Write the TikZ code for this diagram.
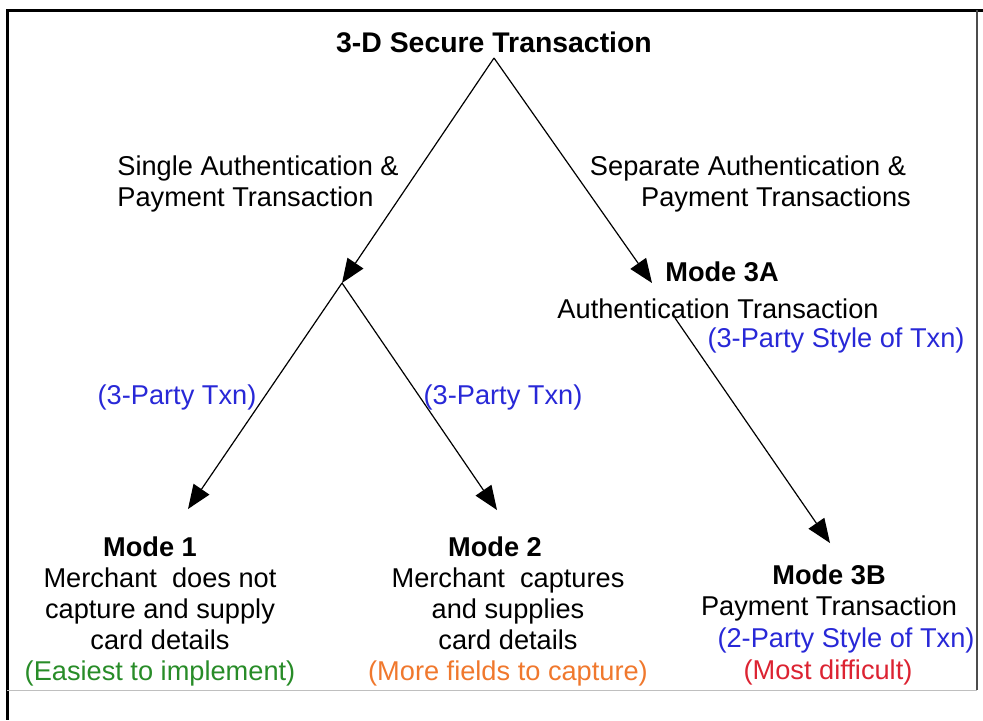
\documentclass[tikz,border=0pt]{standalone}
\usepackage{fontspec}
\setmainfont{Liberation Sans}
\usetikzlibrary{arrows.meta}
\definecolor{txnblue}{RGB}{40,40,215}
\definecolor{easygreen}{RGB}{40,140,40}
\definecolor{moreorange}{RGB}{240,120,45}
\definecolor{hardred}{RGB}{220,35,50}
\tikzset{
  lbl/.style={font=\fontsize{13.6}{15.5}\selectfont, align=center, inner sep=0pt},
  hd/.style={lbl, font=\fontsize{13.6}{15.5}\selectfont\bfseries},
  arr/.style={-{Triangle[length=12pt,width=9.5pt]}, line width=0.6pt},
}

\begin{document}
\begin{tikzpicture}[x=0.5pt, y=-0.5pt]
\useasboundingbox (0,0) rectangle (983,720);
% Frame
\draw[line width=1.5pt] (983,10) -- (7,10) -- (7,720);
\draw[line width=0.7pt, black!70] (977,10) -- (977,690);
\draw[line width=0.5pt, black!25] (7,690) -- (977,690);
% Title and branch points
\node[hd, font=\fontsize{14.2}{16}\selectfont\bfseries] (title) at (494,42) {3-D Secure Transaction};
\coordinate (apex) at (494,58);
\coordinate (split) at (342,283);
\coordinate (in3a) at (652,283);
\coordinate (out3a) at (675,318);
\coordinate (in3b) at (830,543);
\coordinate (in1) at (188,509);
\coordinate (in2) at (497,510);
% Branch labels
\node[lbl, anchor=west, align=left] (single) at (117,184) {Single Authentication \&\\Payment Transaction};
\node[lbl] (separate) at (748,184) {Separate Authentication \&\\\hspace*{28pt}Payment Transactions};
\node[lbl, text=txnblue] (party1) at (177,397) {(3-Party Txn)};
\node[lbl, text=txnblue] (party2) at (503,397) {(3-Party Txn)};
% Mode 3A
\node[hd] (m3a) at (722,272) {Mode 3A};
\node[lbl] (m3atxt) at (718,309) {Authentication Transaction};
\node[lbl, text=txnblue] (m3astyle) at (836,340) {(3-Party Style of Txn)};
% Modes at the bottom
\node[lbl] (m1) at (160,611) {\textbf{Mode 1}\hspace*{10pt}\\Merchant\ \ does not\\capture and supply\\card details\\\textcolor{easygreen}{(Easiest to implement)}};
\node[lbl] (m2) at (508,611) {\textbf{Mode 2}\hspace*{13pt}\\Merchant\ \ captures\\and supplies\\card details\\\textcolor{moreorange}{(More fields to capture)}};
\node[lbl] (m3b) at (829,593) {\textbf{Mode 3B}\\Payment Transaction};
\node[lbl, text=txnblue] (m3bstyle) at (846,640) {(2-Party Style of Txn)};
\node[lbl, text=hardred] (m3bnote) at (828,672) {(Most difficult)};
% Arrows
\draw[arr] (apex) -- (split);
\draw[arr] (apex) -- (in3a);
\draw[arr] (split) -- (in1);
\draw[arr] (split) -- (in2);
\draw[arr] (out3a) -- (in3b);
\end{tikzpicture}
\end{document}
